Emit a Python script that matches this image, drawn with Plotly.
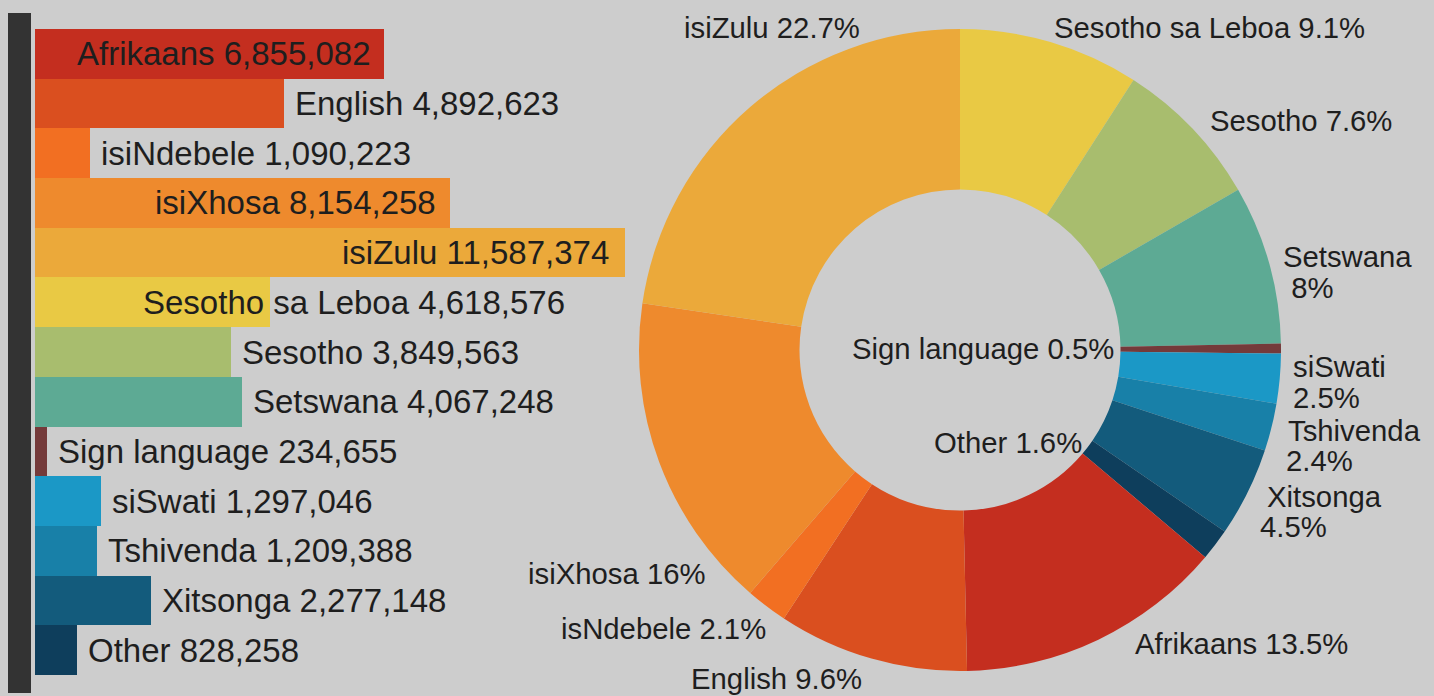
import plotly.graph_objects as go

# ---------------- data ----------------
languages = ["Afrikaans", "English", "isiNdebele", "isiXhosa", "isiZulu",
             "Sesotho sa Leboa", "Sesotho", "Setswana", "Sign language",
             "siSwati", "Tshivenda", "Xitsonga", "Other"]
speakers = [6855082, 4892623, 1090223, 8154258, 11587374,
            4618576, 3849563, 4067248, 234655,
            1297046, 1209388, 2277148, 828258]

pie_labels = ["Sesotho sa Leboa", "Sesotho", "Setswana", "Sign language",
              "siSwati", "Tshivenda", "Xitsonga", "Other", "Afrikaans",
              "English", "isNdebele", "isiXhosa", "isiZulu"]
pie_shares = [9.1, 7.6, 8, 0.5, 2.5, 2.4, 4.5, 1.6, 13.5, 9.6, 2.1, 16, 22.7]

# ---------------- styles ----------------
lang_colors = {
    "Afrikaans": "#C42E1F", "English": "#DA4F1F", "isiNdebele": "#F26F22",
    "isNdebele": "#F26F22", "isiXhosa": "#EE8A2D", "isiZulu": "#EBA93A",
    "Sesotho sa Leboa": "#E9C944", "Sesotho": "#A8BD6E", "Setswana": "#5DAA94",
    "Sign language": "#743A3A", "siSwati": "#1B98C6", "Tshivenda": "#1880A8",
    "Xitsonga": "#135B7C", "Other": "#0E3E5C",
}
BG = "#CDCDCD"
TXT = "#1E1E1E"
FONT = "Liberation Sans, Arial, sans-serif"
W, H = 1434, 696

# bar label placement: (anchor, shift in px from bar end)
bar_label_style = {
    "Afrikaans": ("right", -11), "isiXhosa": ("right", -12), "isiZulu": ("right", -14),
    "Sesotho sa Leboa": ("left", -129),
}

fig = go.Figure()

fig.add_trace(go.Bar(
    x=speakers, y=languages, orientation="h",
    marker=dict(color=[lang_colors[l] for l in languages], line=dict(width=0)),
    hoverinfo="x+y", showlegend=False,
))

annotations = []
for lang, val in zip(languages, speakers):
    anchor, shift = bar_label_style.get(lang, ("left", 9))
    annotations.append(dict(
        x=val, y=lang, xref="x", yref="y", xanchor=anchor, yanchor="middle",
        xshift=shift, showarrow=False,
        text=f"{lang} {val:,}",
        font=dict(family=FONT, size=33, color=TXT),
    ))

fig.add_trace(go.Pie(
    labels=pie_labels, values=pie_shares, sort=False, direction="clockwise",
    rotation=0, hole=0.5, textinfo="none", showlegend=False,
    marker=dict(colors=[lang_colors[l] for l in pie_labels], line=dict(width=0)),
    domain=dict(x=[639 / W, 1281 / W], y=[25 / H, 667 / H]),
))

# pie label layout (pixel positions in the page) - one entry per text line
pie_label_lines = [
    ("isiZulu", "isiZulu 22.7%", 772, 27, "center"),
    ("Sesotho sa Leboa", "Sesotho sa Leboa 9.1%", 1052, 27, "left"),
    ("Sesotho", "Sesotho 7.6%", 1208, 120, "left"),
    ("Setswana", "Setswana", 1281, 257, "left"),
    ("Setswana", " 8%", 1281, 287, "left"),
    ("Sign language", "Sign language 0.5%", 1116, 349, "right"),
    ("siSwati", "siSwati", 1291, 367, "left"),
    ("siSwati", "2.5%", 1291, 397, "left"),
    ("Tshivenda", "Tshivenda", 1286, 430, "left"),
    ("Tshivenda", "2.4%", 1284, 460, "left"),
    ("Xitsonga", "Xitsonga", 1265, 496, "left"),
    ("Xitsonga", "4.5%", 1258, 526, "left"),
    ("Other", "Other 1.6%", 1084, 442, "right"),
    ("Afrikaans", "Afrikaans 13.5%", 1133, 643, "left"),
    ("English", "English 9.6%", 864, 678, "right"),
    ("isNdebele", "isNdebele 2.1%", 768, 628, "right"),
    ("isiXhosa", "isiXhosa 16%", 708, 573, "right"),
]
for lang, text, px, py, anchor in pie_label_lines:
    annotations.append(dict(
        x=px / W, y=1 - py / H, xref="paper", yref="paper",
        xanchor=anchor, yanchor="middle", showarrow=False, text=text,
        font=dict(family=FONT, size=29.3, color=TXT),
    ))

fig.update_layout(
    width=W, height=H,
    margin=dict(l=0, r=0, t=0, b=0),
    paper_bgcolor=BG, plot_bgcolor=BG,
    bargap=0,
    xaxis=dict(domain=[35 / W, 640 / W], range=[0, 605 / 50.9 * 1e6],
               visible=False, fixedrange=True),
    yaxis=dict(domain=[21 / H, 667 / H], autorange="reversed",
               visible=False, fixedrange=True),
    annotations=annotations,
    shapes=[dict(type="rect", xref="paper", yref="paper",
                 x0=8 / W, x1=31 / W, y0=1 - 693 / H, y1=1 - 13 / H,
                 fillcolor="#333333", line=dict(width=0), layer="below")],
)

fig.write_html(
    "out.html",
    config={"displayModeBar": False},
    post_script="document.body.style.margin='0';document.body.style.overflow='hidden';",
)
